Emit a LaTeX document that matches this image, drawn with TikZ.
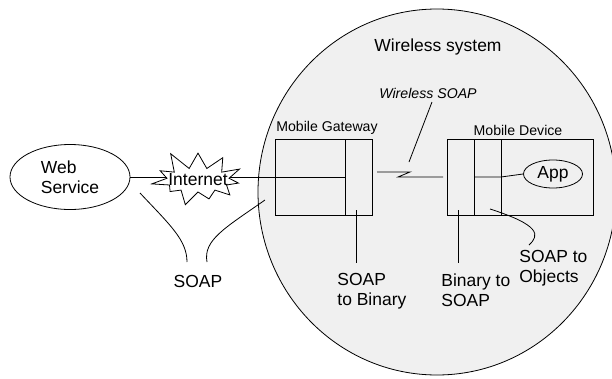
\documentclass[tikz,border=0pt]{standalone}
\usepackage{fontspec}
\setmainfont{Liberation Sans}
\usetikzlibrary{shapes.geometric,shapes.symbols}

\tikzset{
  bigtxt/.style={font=\fontsize{13.1}{15.2}\selectfont},
  smalltxt/.style={font=\fontsize{10.6}{13}\selectfont},
  box/.style={draw,inner sep=0pt,minimum height=57pt},
  blob/.style={draw,ellipse,inner sep=0pt}
}

\begin{document}
\begin{tikzpicture}[x=0.75pt,y=-0.75pt,line width=0.6pt]
\useasboundingbox (0,0) rectangle (612,379);

% Wireless system
\draw[fill=gray!12] (437,192) ellipse [x radius=179, y radius=183];
\node[bigtxt] (lblsys) at (438,47) {Wireless system};

% Web service and the wired link
\node[blob,bigtxt,align=left,minimum width=90pt,minimum height=48.75pt] (websvc) at (70,177) {Web\\Service};
\coordinate (gwsplit) at (345,177);
\draw (websvc.east) -- (gwsplit);
\node[starburst,draw,fill=white,bigtxt,inner sep=0pt,starburst points=11,
  starburst point height=15pt,minimum width=77pt,minimum height=48pt,
  random starburst=11] (inet) at (198,180) {\makebox[0pt]{Internet}};

% Mobile gateway
\node[box,minimum width=72.75pt] (gateway) at (323.5,177) {};
\node[smalltxt] (lblgw) at (327,128) {Mobile Gateway};
\draw (345,139) -- (345,215);

% Mobile device
\node[box,minimum width=109.5pt] (device) at (520,177) {};
\node[smalltxt] (lbldev) at (518,130) {Mobile Device};
\draw (474,139) -- (474,215);
\draw (501,139) -- (501,215);
\node[blob,bigtxt,minimum width=44.25pt,minimum height=21pt] (app) at (553,174) {App};
\coordinate (devsplit) at (474,177);
\draw (devsplit) -- (501,177) -- (app.west);

% Wireless link
\coordinate (wl1) at (377,172);
\coordinate (wl2) at (443,177);
\draw (wl1) -- (410,172) -- (398,177) -- (wl2);
\node[smalltxt,font=\fontsize{10.6}{13}\selectfont\itshape] (lblwsoap) at (428,93) {Wireless SOAP};
\coordinate (wsoapend) at (409,162);
\draw (432,102) -- (wsoapend);

% SOAP over the wire
\node[bigtxt] (lblsoap) at (198,281) {SOAP};
\draw (140,193) .. controls (170,225) and (187,240) .. (187,262);
\draw (265,200) .. controls (225,228) and (203,240) .. (207,262);

% Conversions
\node[bigtxt,align=left,anchor=north west,inner sep=0pt] (lblstb) at (337,273) {SOAP\\to Binary};
\draw (356,210) -- (356,263);
\node[bigtxt,align=left,anchor=north west,inner sep=0pt] (lblbts) at (441,273) {Binary to\\SOAP};
\draw (458,210) -- (458,263);
\node[bigtxt,align=left,anchor=north west,inner sep=0pt] (lblsto) at (519,250) {SOAP to\\Objects};
\draw (490,209) .. controls (540,225) and (540,235) .. (529,245);
\end{tikzpicture}
\end{document}
